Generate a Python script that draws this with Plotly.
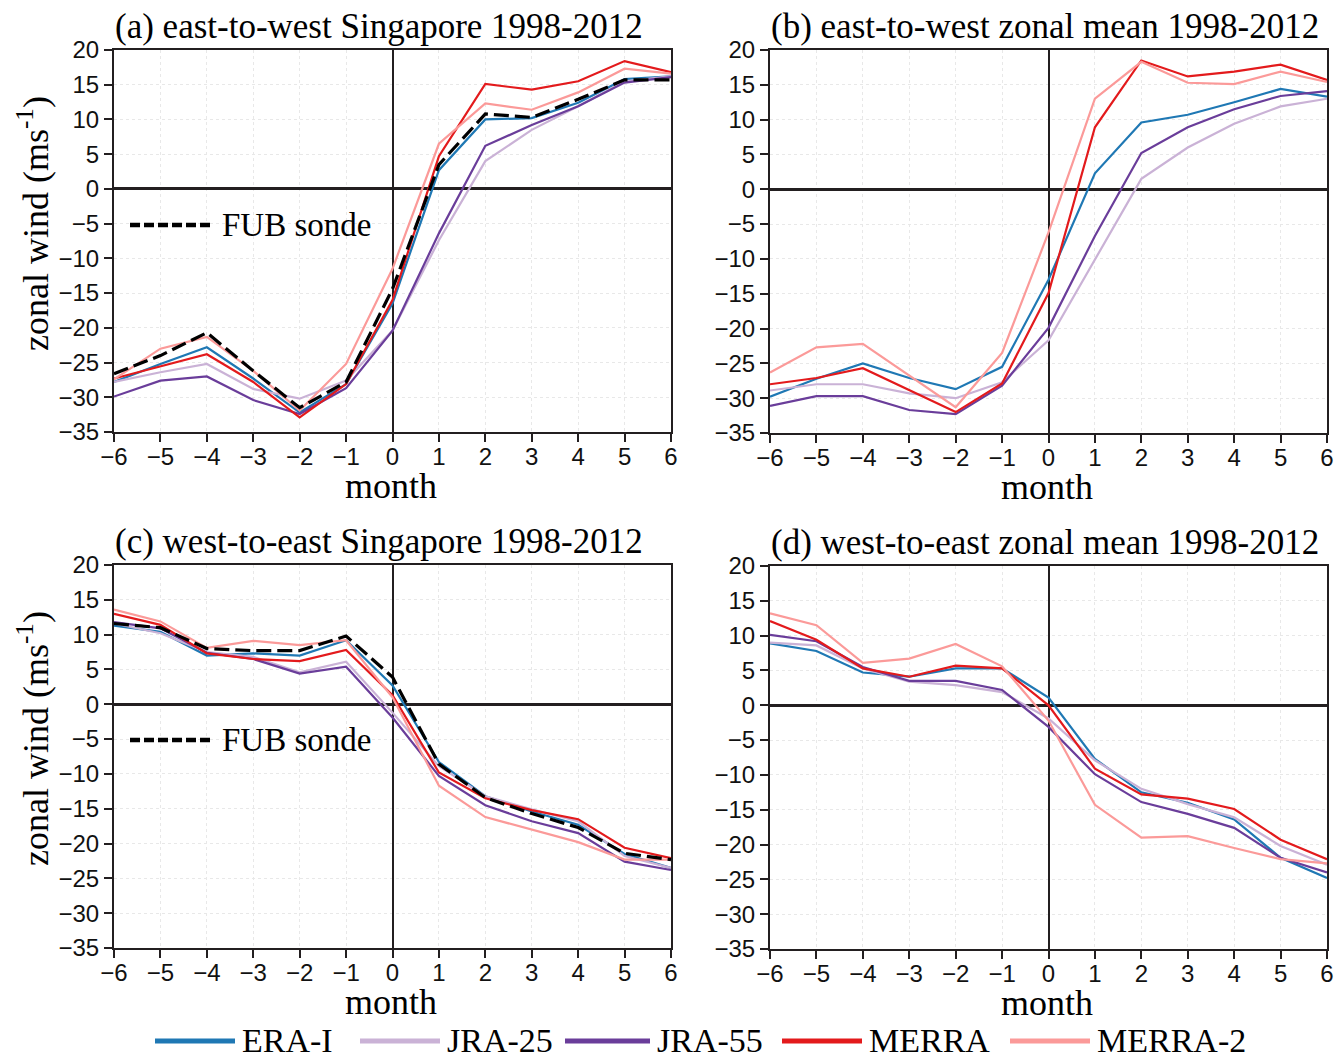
import plotly.graph_objects as go

# months relative to the QBO phase transition
months = [-6, -5, -4, -3, -2, -1, 0, 1, 2, 3, 4, 5, 6]

# (a) east-to-west transition, Singapore
a_era = [-27.8, -25.2, -22.8, -27.3, -32.2, -28.1, -16.5, 2.7, 10.0, 10.2, 12.4, 15.8, 16.2]
a_jra25 = [-27.8, -26.4, -25.2, -28.8, -30.2, -27.6, -20.4, -7.4, 4.0, 8.5, 11.9, 15.5, 16.2]
a_jra55 = [-29.9, -27.6, -27.0, -30.4, -32.4, -28.7, -20.4, -6.4, 6.2, 9.2, 11.9, 15.3, 16.1]
a_merra = [-27.3, -25.6, -23.8, -27.8, -32.9, -28.1, -16.0, 4.7, 15.1, 14.3, 15.5, 18.4, 16.8]
a_merra2 = [-27.4, -23.0, -21.3, -26.2, -31.9, -25.2, -11.5, 6.5, 12.3, 11.4, 13.9, 17.3, 16.6]
a_fub = [-26.6, -24.0, -20.7, -26.2, -31.5, -27.8, -14.4, 3.5, 10.8, 10.3, 12.9, 15.7, 15.7]

# (b) east-to-west transition, zonal mean
b_era = [-29.8, -27.2, -25.0, -27.1, -28.7, -25.5, -13.0, 2.3, 9.6, 10.7, 12.5, 14.4, 13.3]
b_jra25 = [-28.9, -28.0, -28.0, -29.3, -30.0, -27.7, -21.7, -10.1, 1.5, 6.0, 9.4, 11.9, 13.0]
b_jra55 = [-31.1, -29.7, -29.7, -31.7, -32.3, -28.2, -19.9, -6.7, 5.2, 8.9, 11.5, 13.4, 14.1]
b_merra = [-28.0, -27.1, -25.7, -28.9, -32.0, -27.9, -14.9, 8.9, 18.5, 16.2, 16.9, 17.9, 15.7]
b_merra2 = [-26.3, -22.7, -22.2, -26.7, -31.3, -23.5, -6.2, 13.0, 18.3, 15.3, 15.1, 16.9, 15.4]

# (c) west-to-east transition, Singapore
c_era = [11.3, 10.4, 7.0, 7.3, 7.0, 9.2, 2.7, -8.3, -13.2, -15.4, -17.3, -21.5, -23.5]
c_jra25 = [11.6, 10.2, 7.5, 6.8, 4.6, 6.1, -1.2, -8.9, -13.2, -15.1, -16.8, -21.8, -23.5]
c_jra55 = [11.8, 10.9, 7.4, 6.5, 4.4, 5.4, -1.9, -10.3, -14.5, -16.8, -18.5, -22.6, -23.8]
c_merra = [13.0, 11.4, 7.3, 6.5, 6.2, 7.8, 1.3, -9.8, -13.5, -15.2, -16.5, -20.6, -22.1]
c_merra2 = [13.6, 11.9, 8.1, 9.1, 8.5, 9.2, 1.0, -11.7, -16.2, -18.0, -19.8, -22.3, -22.3]
c_fub = [11.6, 11.0, 8.0, 7.7, 7.7, 9.8, 3.9, -8.6, -13.4, -15.7, -17.7, -21.4, -22.3]

# (d) west-to-east transition, zonal mean
d_era = [8.9, 7.8, 4.7, 4.1, 5.3, 5.3, 1.1, -7.7, -12.5, -14.0, -16.4, -21.9, -24.8]
d_jra25 = [9.0, 8.6, 5.3, 3.4, 2.9, 1.9, -1.9, -7.9, -12.0, -14.2, -16.1, -20.2, -22.9]
d_jra55 = [10.1, 9.2, 5.5, 3.5, 3.5, 2.2, -3.1, -9.9, -13.9, -15.6, -17.6, -21.9, -24.0]
d_merra = [12.1, 9.4, 5.3, 4.1, 5.7, 5.3, 0.0, -9.1, -12.8, -13.4, -14.9, -19.3, -22.1]
d_merra2 = [13.2, 11.5, 6.1, 6.7, 8.8, 5.6, -2.2, -14.3, -19.0, -18.8, -20.5, -22.1, -22.7]

dataset_names = ["ERA-I", "JRA-25", "JRA-55", "MERRA", "MERRA-2"]
dataset_colors = ["#1f78b4", "#cab2d6", "#6a3d9a", "#e31a1c", "#fb9a99"]

panel_titles = [
    "(a) east-to-west Singapore 1998-2012",
    "(b) east-to-west zonal mean 1998-2012",
    "(c) west-to-east Singapore 1998-2012",
    "(d) west-to-east zonal mean 1998-2012",
]

y_ticks = [20, 15, 10, 5, 0, -5, -10, -15, -20, -25, -30, -35]

W, H = 1337, 1058
SERIF = "Liberation Serif, Times New Roman, serif"
SANS = "Liberation Sans, Arial, Helvetica, sans-serif"


def px(x):
    return x / W


def py(y):
    return 1 - y / H


# pixel boxes of the four panels: left, right, top, bottom
boxes = [
    (114, 671, 50, 432),
    (770, 1327, 50, 433),
    (114, 671, 565, 948),
    (770, 1327, 566, 949),
]

panels = [
    ([a_era, a_jra25, a_jra55, a_merra, a_merra2], a_fub),
    ([b_era, b_jra25, b_jra55, b_merra, b_merra2], None),
    ([c_era, c_jra25, c_jra55, c_merra, c_merra2], c_fub),
    ([d_era, d_jra25, d_jra55, d_merra, d_merra2], None),
]

fig = go.Figure()
layout = dict(
    width=W, height=H,
    margin=dict(l=0, r=0, t=0, b=0, autoexpand=False),
    paper_bgcolor="white", plot_bgcolor="white",
    showlegend=False,
)
annotations = []
shapes = []

for i, ((series, fub), box) in enumerate(zip(panels, boxes)):
    n = "" if i == 0 else str(i + 1)
    xa, ya = "x" + n, "y" + n
    left, right, top, bottom = box
    axis_common = dict(
        showline=True, linecolor="#231f20", linewidth=2, mirror=True,
        ticks="outside", ticklen=8, tickwidth=1.5, tickcolor="#231f20",
        tickfont=dict(family=SANS, size=24, color="#111"),
        showgrid=True, gridcolor="#e8e8e8", gridwidth=1, griddash="dot",
        automargin=False,
    )
    layout["xaxis" + n] = dict(
        axis_common, domain=[px(left), px(right)], range=[-6, 6],
        tickvals=months, anchor=ya, zeroline=True,
        zerolinecolor="#231f20", zerolinewidth=1.5,
        ticklabelstandoff=-6,
    )
    layout["yaxis" + n] = dict(
        axis_common, domain=[py(bottom), py(top)], range=[-35, 20],
        tickvals=y_ticks, anchor=xa, zeroline=True,
        zerolinecolor="#231f20", zerolinewidth=2.5,
    )
    for name, color, vals in zip(dataset_names, dataset_colors, series):
        fig.add_trace(go.Scatter(
            x=months, y=vals, mode="lines", name=name,
            line=dict(color=color, width=2.2), xaxis=xa, yaxis=ya,
        ))
    if fub is not None:
        fig.add_trace(go.Scatter(
            x=months, y=fub, mode="lines", name="FUB sonde",
            line=dict(color="black", width=3.2, dash="15px,6px"),
            xaxis=xa, yaxis=ya,
        ))
        # in-panel key for the sonde line
        ky = top + 175
        shapes.append(dict(
            type="line", xref="paper", yref="paper",
            x0=px(left + 16), x1=px(left + 99), y0=py(ky), y1=py(ky),
            line=dict(color="black", width=4.5, dash="10px,4px"),
        ))
        annotations.append(dict(
            x=px(left + 106), y=py(ky), xref="paper", yref="paper",
            text="FUB sonde", showarrow=False, xanchor="left", yanchor="middle",
            font=dict(family=SERIF, size=33, color="black"),
        ))
    # panel title
    annotations.append(dict(
        x=px((left + right) / 2 - 14 if i % 2 == 0 else (left + right) / 2 - 4),
        y=py(top - 24), xref="paper", yref="paper",
        text=panel_titles[i], showarrow=False, xanchor="center", yanchor="middle",
        font=dict(family=SERIF, size=35, color="black"),
    ))
    # x-axis title
    annotations.append(dict(
        x=px((left + right) / 2 - 2), y=py(bottom + 54), xref="paper", yref="paper",
        text="month", showarrow=False, xanchor="center", yanchor="middle",
        font=dict(family=SERIF, size=36, color="black"),
    ))
    # y-axis title on the left column only
    if i % 2 == 0:
        annotations.append(dict(
            x=px(33), y=py(top + 174), xref="paper", yref="paper",
            text="zonal wind (ms<sup>-1</sup>)", showarrow=False, textangle=-90,
            xanchor="center", yanchor="middle",
            font=dict(family=SERIF, size=36, color="black"),
        ))

# shared key along the bottom
key_lines = [(155, 235), (360, 440), (565, 650), (782, 862), (1010, 1090)]
key_y = 1041
for (x0, x1), name, color in zip(key_lines, dataset_names, dataset_colors):
    shapes.append(dict(
        type="line", xref="paper", yref="paper",
        x0=px(x0), x1=px(x1), y0=py(key_y), y1=py(key_y),
        line=dict(color=color, width=5),
    ))
    annotations.append(dict(
        x=px(x1 + 5), y=py(key_y - 1), xref="paper", yref="paper",
        text=name, showarrow=False, xanchor="left", yanchor="middle",
        font=dict(family=SERIF, size=34, color="black"),
    ))

layout["annotations"] = annotations
layout["shapes"] = shapes
fig.update_layout(**layout)
fig.write_html("out.html")
